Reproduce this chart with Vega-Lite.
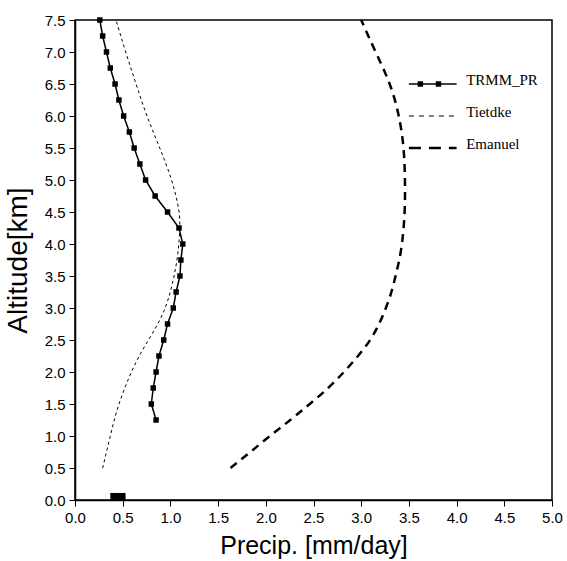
{
  "$schema": "https://vega.github.io/schema/vega-lite/v6.json",
  "width": 477,
  "height": 480,
  "autosize": {"type": "none"},
  "padding": {"left": 75, "top": 20, "right": 15, "bottom": 61},
  "background": "white",
  "config": {
    "view": {"stroke": "black", "strokeWidth": 1.5},
    "axis": {
      "grid": false,
      "domainColor": "black",
      "domainWidth": 1.5,
      "tickColor": "black",
      "tickWidth": 1,
      "tickSize": 6,
      "labelFont": "Liberation Sans",
      "labelFontSize": 15,
      "labelColor": "black",
      "titleFont": "Liberation Sans",
      "titleFontWeight": "normal",
      "titleColor": "black"
    }
  },
  "datasets": {
    "trmm": [
      {"alt": 7.5, "p": 0.26}, {"alt": 7.25, "p": 0.29}, {"alt": 7.0, "p": 0.33}, {"alt": 6.75, "p": 0.37},
      {"alt": 6.5, "p": 0.42}, {"alt": 6.25, "p": 0.46}, {"alt": 6.0, "p": 0.51}, {"alt": 5.75, "p": 0.57},
      {"alt": 5.5, "p": 0.62}, {"alt": 5.25, "p": 0.68}, {"alt": 5.0, "p": 0.74}, {"alt": 4.75, "p": 0.84},
      {"alt": 4.5, "p": 0.97}, {"alt": 4.25, "p": 1.09}, {"alt": 4.0, "p": 1.13}, {"alt": 3.75, "p": 1.11},
      {"alt": 3.5, "p": 1.10}, {"alt": 3.25, "p": 1.06}, {"alt": 3.0, "p": 1.03}, {"alt": 2.75, "p": 0.97},
      {"alt": 2.5, "p": 0.93}, {"alt": 2.25, "p": 0.88}, {"alt": 2.0, "p": 0.85}, {"alt": 1.75, "p": 0.82},
      {"alt": 1.5, "p": 0.80}, {"alt": 1.25, "p": 0.85}
    ],
    "tiet": [
      {"alt": 7.5, "p": 0.43}, {"alt": 7.0, "p": 0.53}, {"alt": 6.5, "p": 0.64}, {"alt": 6.0, "p": 0.75},
      {"alt": 5.5, "p": 0.89}, {"alt": 5.0, "p": 1.02}, {"alt": 4.5, "p": 1.10}, {"alt": 4.25, "p": 1.10},
      {"alt": 4.0, "p": 1.09}, {"alt": 3.75, "p": 1.07}, {"alt": 3.5, "p": 1.04}, {"alt": 3.25, "p": 1.00},
      {"alt": 3.0, "p": 0.95}, {"alt": 2.75, "p": 0.87}, {"alt": 2.5, "p": 0.77}, {"alt": 2.25, "p": 0.67},
      {"alt": 2.0, "p": 0.59}, {"alt": 1.75, "p": 0.52}, {"alt": 1.5, "p": 0.46}, {"alt": 1.25, "p": 0.41},
      {"alt": 1.0, "p": 0.37}, {"alt": 0.75, "p": 0.33}, {"alt": 0.5, "p": 0.29}
    ],
    "eman": [
      {"alt": 7.5, "p": 3.0}, {"alt": 7.0, "p": 3.15}, {"alt": 6.5, "p": 3.31}, {"alt": 6.0, "p": 3.40},
      {"alt": 5.5, "p": 3.45}, {"alt": 5.0, "p": 3.46}, {"alt": 4.5, "p": 3.46}, {"alt": 4.0, "p": 3.43},
      {"alt": 3.75, "p": 3.40}, {"alt": 3.5, "p": 3.36}, {"alt": 3.25, "p": 3.32}, {"alt": 3.0, "p": 3.26},
      {"alt": 2.75, "p": 3.19}, {"alt": 2.5, "p": 3.10}, {"alt": 2.25, "p": 2.97}, {"alt": 2.0, "p": 2.82},
      {"alt": 1.75, "p": 2.66}, {"alt": 1.5, "p": 2.46}, {"alt": 1.25, "p": 2.26}, {"alt": 1.0, "p": 2.04},
      {"alt": 0.75, "p": 1.84}, {"alt": 0.5, "p": 1.63}
    ],
    "bar": [{"p0": 0.37, "p1": 0.53, "a0": 0, "a1": 0.11}],
    "xticks": [{"p": 0}, {"p": 0.5}, {"p": 1}, {"p": 1.5}, {"p": 2}, {"p": 2.5}, {"p": 3}, {"p": 3.5}, {"p": 4}, {"p": 4.5}, {"p": 5}],
    "yticks": [{"alt": 0}, {"alt": 0.5}, {"alt": 1}, {"alt": 1.5}, {"alt": 2}, {"alt": 2.5}, {"alt": 3}, {"alt": 3.5}, {"alt": 4}, {"alt": 4.5}, {"alt": 5}, {"alt": 5.5}, {"alt": 6}, {"alt": 6.5}, {"alt": 7}, {"alt": 7.5}],
    "leg": [
      {"item": "TRMM_PR", "p": 3.5, "alt": 6.5}, {"item": "TRMM_PR", "p": 4.0, "alt": 6.5},
      {"item": "Tietdke", "p": 3.5, "alt": 6.0}, {"item": "Tietdke", "p": 4.0, "alt": 6.0},
      {"item": "Emanuel", "p": 3.5, "alt": 5.5}, {"item": "Emanuel", "p": 4.0, "alt": 5.5}
    ],
    "legpts": [{"p": 3.62, "alt": 6.5}, {"p": 3.81, "alt": 6.5}],
    "legtxt": [
      {"item": "TRMM_PR", "p": 4.1, "alt": 6.5},
      {"item": "Tietdke", "p": 4.1, "alt": 6.0},
      {"item": "Emanuel", "p": 4.1, "alt": 5.5}
    ]
  },
  "encoding": {
    "x": {"field": "p", "type": "quantitative", "scale": {"domain": [0, 5], "nice": false},
      "axis": {"orient": "bottom", "values": [0, 0.5, 1, 1.5, 2, 2.5, 3, 3.5, 4, 4.5, 5], "format": ".1f",
        "title": "Precip. [mm/day]", "titleFontSize": 25, "titlePadding": 8, "labelPadding": 4, "labelFlush": false}},
    "y": {"field": "alt", "type": "quantitative", "scale": {"domain": [0, 7.5], "nice": false},
      "axis": {"orient": "left", "values": [0, 0.5, 1, 1.5, 2, 2.5, 3, 3.5, 4, 4.5, 5, 5.5, 6, 6.5, 7, 7.5], "format": ".1f",
        "title": "Altitude[km]", "titleFontSize": 28, "titlePadding": 12, "labelPadding": 4, "labelFlush": false}}
  },
  "layer": [
    {
      "data": {"name": "eman"},
      "mark": {"type": "line", "color": "black", "strokeWidth": 2.5, "strokeDash": [8, 6], "interpolate": "basis"},
      "encoding": {"order": {"field": "alt", "type": "quantitative"}}
    },
    {
      "data": {"name": "tiet"},
      "mark": {"type": "line", "color": "black", "strokeWidth": 1, "strokeDash": [3, 3], "interpolate": "basis"},
      "encoding": {"order": {"field": "alt", "type": "quantitative"}}
    },
    {
      "data": {"name": "trmm"},
      "mark": {"type": "line", "color": "black", "strokeWidth": 1.5},
      "encoding": {"order": {"field": "alt", "type": "quantitative"}}
    },
    {
      "data": {"name": "trmm"},
      "mark": {"type": "point", "shape": "square", "filled": true, "color": "black", "size": 30, "opacity": 1},
      "encoding": {}
    },
    {
      "data": {"name": "bar"},
      "mark": {"type": "rect", "color": "black"},
      "encoding": {
        "x": {"field": "p0", "type": "quantitative"},
        "x2": {"field": "p1"},
        "y": {"field": "a0", "type": "quantitative"},
        "y2": {"field": "a1"}
      }
    },
    {
      "data": {"name": "xticks"},
      "mark": {"type": "rule", "color": "black", "strokeWidth": 1},
      "encoding": {"y": {"datum": 7.5, "type": "quantitative"}, "y2": {"datum": 7.6}}
    },
    {
      "data": {"name": "yticks"},
      "mark": {"type": "rule", "color": "black", "strokeWidth": 1},
      "encoding": {"x": {"datum": 5, "type": "quantitative"}, "x2": {"datum": 4.94}}
    },
    {
      "data": {"name": "leg"},
      "transform": [{"filter": "datum.item === 'TRMM_PR'"}],
      "mark": {"type": "line", "color": "black", "strokeWidth": 1.5},
      "encoding": {}
    },
    {
      "data": {"name": "leg"},
      "transform": [{"filter": "datum.item === 'Tietdke'"}],
      "mark": {"type": "line", "color": "black", "strokeWidth": 1, "strokeDash": [5, 5]},
      "encoding": {}
    },
    {
      "data": {"name": "leg"},
      "transform": [{"filter": "datum.item === 'Emanuel'"}],
      "mark": {"type": "line", "color": "black", "strokeWidth": 2.5, "strokeDash": [12, 8]},
      "encoding": {}
    },
    {
      "data": {"name": "legpts"},
      "mark": {"type": "point", "shape": "square", "filled": true, "color": "black", "size": 30, "opacity": 1},
      "encoding": {}
    },
    {
      "data": {"name": "legtxt"},
      "mark": {"type": "text", "align": "left", "baseline": "middle", "dy": -4, "font": "Liberation Serif", "fontSize": 15, "color": "black"},
      "encoding": {"text": {"field": "item"}}
    }
  ]
}
